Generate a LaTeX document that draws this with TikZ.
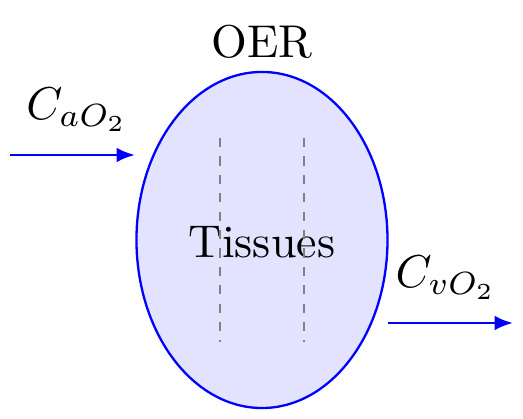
\documentclass[tikz,border=0pt]{standalone}
\usetikzlibrary{arrows.meta,shapes.geometric}
\begin{document}
\begin{tikzpicture}[x=0.2175pt,y=-0.2175pt,
  flow/.style={draw=blue,line width=0.6pt,-{Latex[length=4pt,width=3.2pt]}},
  divider/.style={draw=gray,dash pattern=on 2pt off 2pt,line width=0.5pt}]
\useasboundingbox (0,0) rectangle (523,419);
\node[draw=blue,fill=blue!11,line width=0.5pt,ellipse,minimum width=54.6pt,minimum height=73.1pt,inner sep=0pt] (tis) at (262,240) {};
\node (oer) at (262,42) {OER};
\node (lbl) at (262,242) {Tissues};
\coordinate (d1a) at (220,138); \coordinate (d1b) at (220,342);
\coordinate (d2a) at (304,138); \coordinate (d2b) at (304,342);
\draw[divider] (d1a) -- (d1b);
\draw[divider] (d2a) -- (d2b);
\coordinate (ina) at (10,155); \coordinate (inb) at (135,155);
\draw[flow] (ina) -- (inb);
\node (cin) at (77,110) {$C_{aO_2}$};
\coordinate (outa) at (388,323); \coordinate (outb) at (513,323);
\draw[flow] (outa) -- (outb);
\node (cout) at (446,278) {$C_{vO_2}$};
\end{tikzpicture}
\end{document}
